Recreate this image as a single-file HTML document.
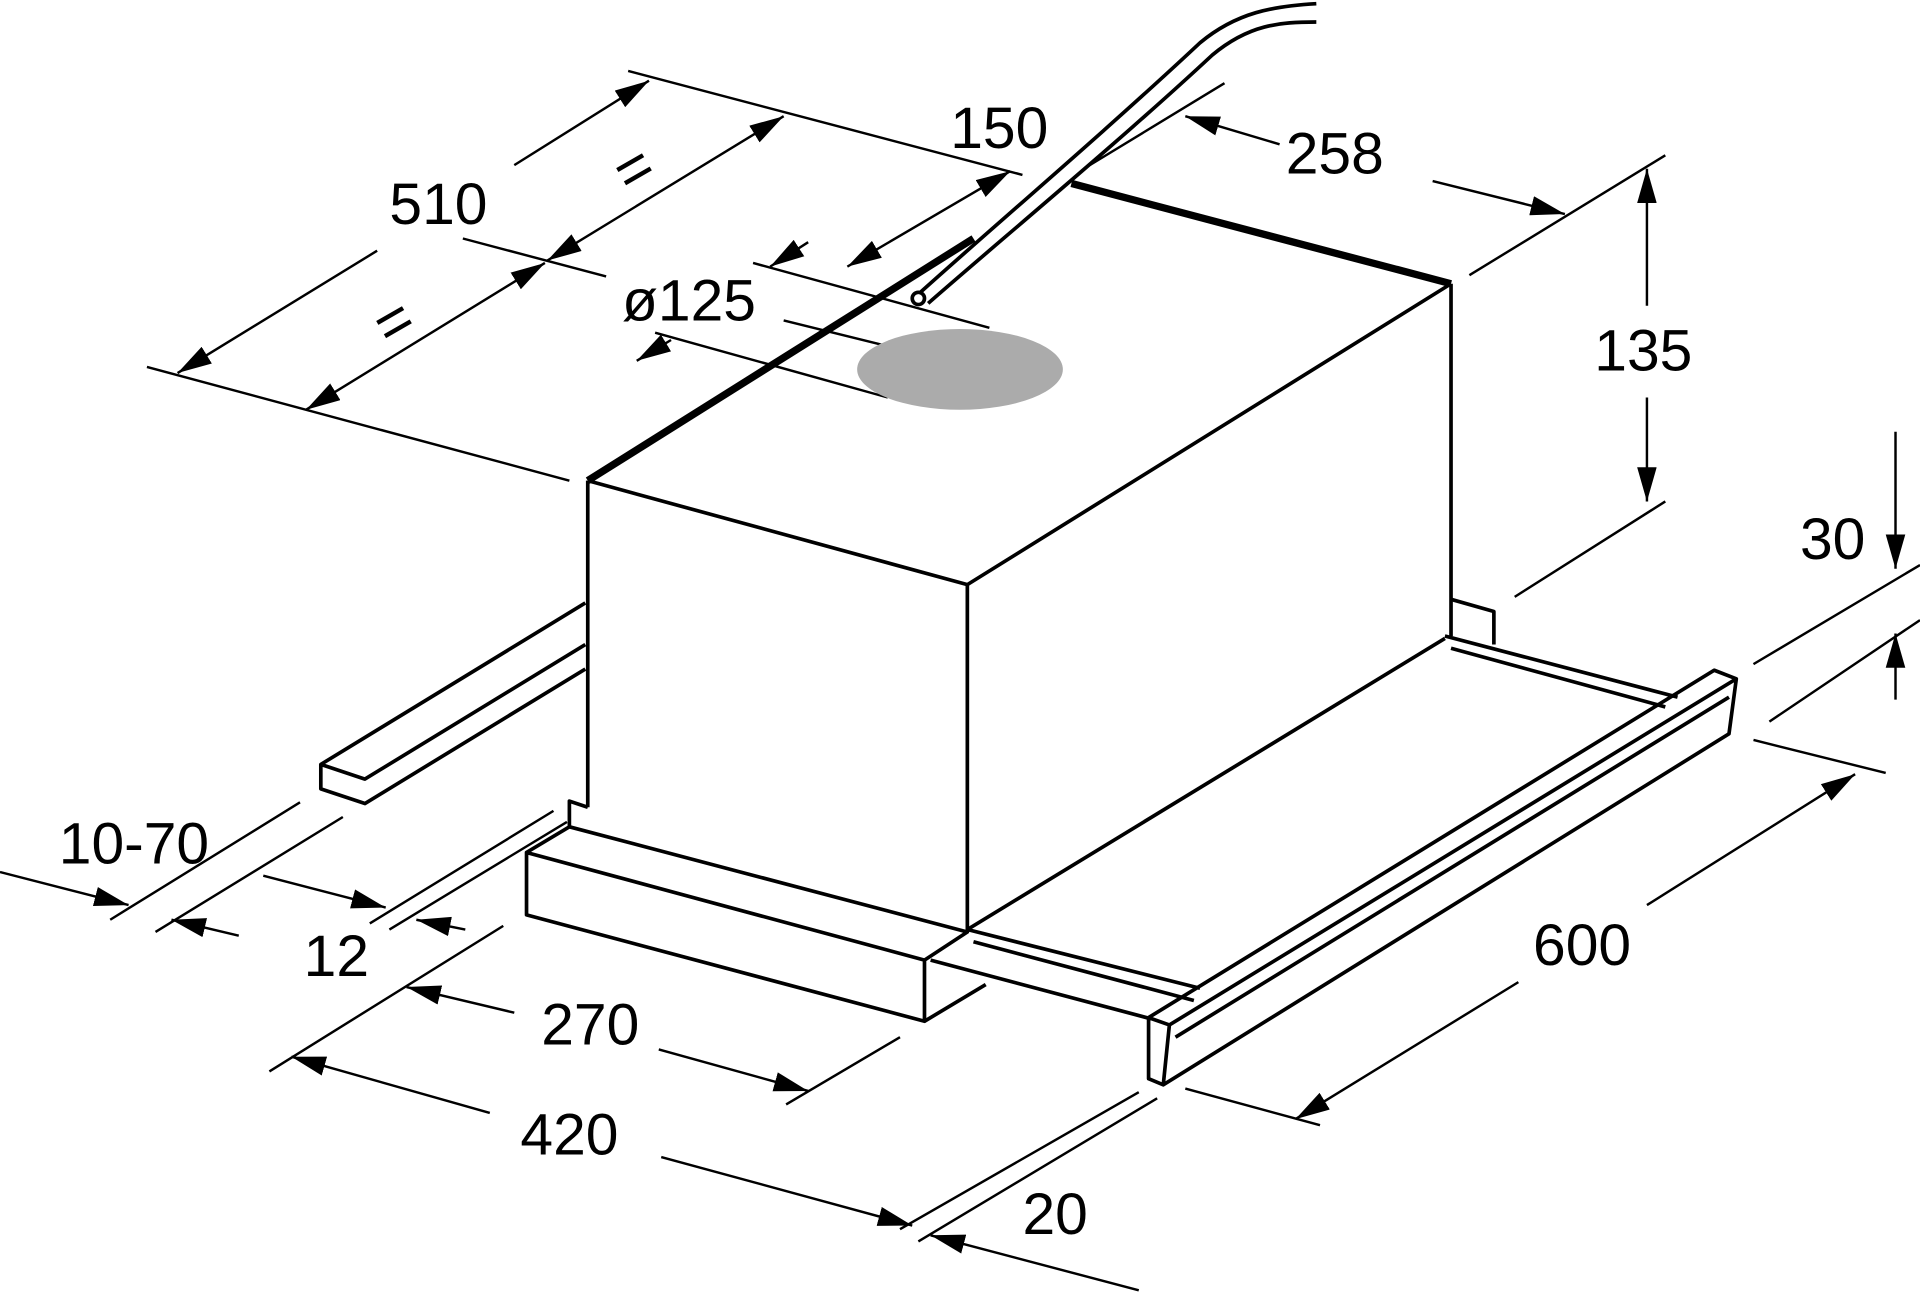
<!DOCTYPE html>
<html><head><meta charset="utf-8"><style>
html,body{margin:0;padding:0;background:#fff;}
svg{display:block;}
text{font-family:"Liberation Sans",sans-serif;font-size:48px;fill:#000;}
</style></head><body>
<svg width="1920" height="1294" viewBox="0 0 1568 1058" preserveAspectRatio="none" xmlns="http://www.w3.org/2000/svg">
<defs>
<marker id="a" viewBox="0 0 10 10" preserveAspectRatio="none" refX="10" refY="5" markerWidth="28" markerHeight="16" markerUnits="userSpaceOnUse" orient="auto-start-reverse">
<path d="M0,0 L10,5 L0,10 z" fill="#000"/></marker>
</defs>
<g fill="none" stroke="#000" stroke-width="3" stroke-linejoin="round">
<path d="M745,245 C800,195 900,110 980,35 C1010,10 1040,5 1075,3"/>
<path d="M758,248 C815,198 915,115 990,45 C1020,20 1045,18 1075,18"/>
<circle cx="750" cy="244" r="5" fill="#fff"/>
<path d="M480,393 L790,478 L1185,232"/>
<path d="M480,393 L795,195" stroke-width="6"/>
<path d="M875,150 L1185,232" stroke-width="6"/>
<path d="M480,393 L480,660 M790,478 L790,762 M1185,232 L1185,520"/>
<path d="M790,760 L1180,522"/>
<path d="M478,493 L262,625 L262,645 L298,657 L478,547 M262,625 L298,637 L478,527"/>
<path d="M430,697 L755,785 L755,835 L430,748 Z M430,697 L465,676 L790,762 L755,785 M755,835 L805,805 M465,676 L465,655 L480,660"/>
<path d="M760,785 L940,833 M790,760 L980,808 M795,770 L975,818"/>
<path d="M1185,490 L1220,500 L1220,527 M1180,520 L1370,570 M1185,530 L1360,578"/>
<path d="M938,832 L1400,548 L1418,555 L1412,600 L950,887 L938,882 Z M938,832 L955,838 L1418,555 M955,838 L950,887 M960,848 L1412,570"/>
<g stroke-width="2">
<path d="M120,300 L465,393 M513,58 L835,143"/>
<path d="M308,205 L145,305" marker-end="url(#a)"/><path d="M420,135 L530,66" marker-end="url(#a)"/>
<path d="M447,213 L640,95" marker-start="url(#a)" marker-end="url(#a)"/>
<path d="M250,335 L445,215" marker-start="url(#a)" marker-end="url(#a)"/>
<path d="M378,195 L495,226"/>
<path d="M692,218 L825,140" marker-start="url(#a)" marker-end="url(#a)"/>
<path d="M615,215 L808,268 M640,262 L725,283 M535,272 L725,325"/>
<path d="M660,198 L629,218" marker-end="url(#a)"/><path d="M548,278 L520,295" marker-end="url(#a)"/>
<path d="M890,135 L1000,68"/>
<path d="M1045,118 L968,95" marker-end="url(#a)"/><path d="M1170,148 L1278,175" marker-end="url(#a)"/>
<path d="M1200,225 L1360,127"/>
<path d="M1345,250 L1345,138" marker-end="url(#a)"/><path d="M1345,325 L1345,410" marker-end="url(#a)"/>
<path d="M1237,488 L1360,410"/>
<path d="M1548,353 L1548,465" marker-end="url(#a)"/><path d="M1548,572 L1548,518" marker-end="url(#a)"/>
<path d="M1432,543 L1568,462 M1445,590 L1568,507"/>
<path d="M1432,605 L1540,632"/>
<path d="M1345,740 L1515,633" marker-end="url(#a)"/><path d="M1240,803 L1058,915" marker-end="url(#a)"/>
<path d="M968,890 L1078,920"/>
<path d="M735,1005 L930,893 M750,1015 L945,898"/>
<path d="M540,946 L745,1002" marker-end="url(#a)"/><path d="M930,1055 L760,1010" marker-end="url(#a)"/>
<path d="M220,876 L411,757"/>
<path d="M400,910 L238,864" marker-end="url(#a)"/>
<path d="M642,903 L735,848"/>
<path d="M420,828 L332,807" marker-end="url(#a)"/><path d="M538,858 L660,892" marker-end="url(#a)"/>
<path d="M302,755 L452,663 M318,760 L463,672"/>
<path d="M215,716 L315,742" marker-end="url(#a)"/><path d="M380,760 L340,752" marker-end="url(#a)"/>
<path d="M90,752 L245,656 M127,762 L280,668"/>
<path d="M0,713 L105,740" marker-end="url(#a)"/><path d="M195,765 L140,752" marker-end="url(#a)"/>
</g>
</g>
<ellipse cx="784" cy="302" rx="84" ry="33" fill="#ababab"/>
<text x="318" y="183">510</text>
<text x="504" y="155" style="font-size:50px" transform="rotate(-30 518 140)">=</text>
<text x="308" y="280" style="font-size:50px" transform="rotate(-30 322 265)">=</text>
<text x="776" y="121">150</text>
<text x="1050" y="142">258</text>
<text x="508" y="262">ø125</text>
<text x="1302" y="303">135</text>
<text x="1470" y="457">30</text>
<text x="48" y="706">10-70</text>
<text x="248" y="798">12</text>
<text x="442" y="854">270</text>
<text x="425" y="944">420</text>
<text x="1252" y="789">600</text>
<text x="835" y="1009">20</text>
</svg>
</body></html>
